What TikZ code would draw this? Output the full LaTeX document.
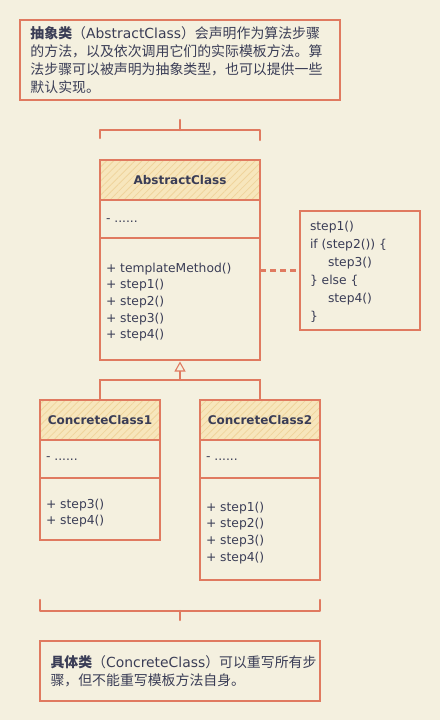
\documentclass[tikz,border=0pt]{standalone}
\usepackage{fontspec}
\setmainfont{Noto Sans CJK SC}
\newfontfamily\umlfont{DejaVu Sans}
\usetikzlibrary{patterns.meta,arrows.meta}
\definecolor{bg}{HTML}{F4F0DF}
\definecolor{ln}{HTML}{E07A60}
\definecolor{tx}{HTML}{3A3D56}
\definecolor{hd}{HTML}{F7E6BC}
\definecolor{hatch}{HTML}{EFD49C}
\begin{document}
\begin{tikzpicture}[x=1pt,y=-1pt,
  every node/.style={inner sep=0pt,outer sep=0pt},
  frame/.style={draw=ln,line width=1.1pt},
  hdr/.style={fill=hd,postaction={pattern={Lines[angle=45,distance=5pt,line width=0.8pt]},pattern color=hatch}},
  note/.style={text=tx,anchor=base west,font=\fontsize{13.9}{18}\selectfont},
  uml/.style={text=tx,anchor=base west,font=\umlfont\fontsize{12.3}{16}\selectfont},
  title/.style={text=tx,anchor=base,font=\umlfont\bfseries\fontsize{12}{16}\selectfont},
  bracket/.style={draw=ln,line width=2.2pt,line cap=round,line join=round}]
\fill[bg] (0,0) rectangle (440,720);
\useasboundingbox (0,0) rectangle (440,720);

% top note
\node[frame,minimum width=320pt,minimum height=80pt,anchor=north west] (topnote) at (20,20) {};
\node[note] (tn1) at (30.5,38.5) {\textbf{抽象类}（{\umlfont AbstractClass}）会声明作为算法步骤};
\node[note] (tn2) at (30.5,56.5) {的方法，以及依次调用它们的实际模板方法。算};
\node[note] (tn3) at (30.5,74.5) {法步骤可以被声明为抽象类型，也可以提供一些};
\node[note] (tn4) at (30.5,92.5) {默认实现。};

% top bracket
\draw[bracket] (100,138) -- (100,130) -- (260,130) -- (260,140);
\draw[bracket] (180,130) -- (180,120);

% AbstractClass
\path[hdr] (100,160) rectangle (260,200);
\node[frame,minimum width=160pt,minimum height=200pt,anchor=north west] (ac) at (100,160) {};
\draw[frame] (100,200) -- (260,200) (100,238) -- (260,238);
\node[title] (act) at (180,184.5) {AbstractClass};
\node[uml] (aca) at (106,222) {- ......};
\node[uml] (acm1) at (106,272) {+ templateMethod()};
\node[uml] (acm2) at (106,288.7) {+ step1()};
\node[uml] (acm3) at (106,305.4) {+ step2()};
\node[uml] (acm4) at (106,322.1) {+ step3()};
\node[uml] (acm5) at (106,338.8) {+ step4()};

% code note
\node[frame,minimum width=120pt,minimum height=119pt,anchor=north west] (code) at (300,211) {};
\node[uml] (c1) at (310,230.5) {step1()};
\node[uml] (c2) at (310,248.5) {if (step2()) \{};
\node[uml] (c3) at (328,266.5) {step3()};
\node[uml] (c4) at (310,284.5) {\} else \{};
\node[uml] (c5) at (328,302.5) {step4()};
\node[uml] (c6) at (310,320.5) {\}};
\draw[draw=ln,line width=2.2pt,dash pattern=on 6pt off 4pt] (ac.east |- code.west) -- (code.west);

% ConcreteClass1
\path[hdr] (40,400) rectangle (160,440);
\node[frame,minimum width=120pt,minimum height=140pt,anchor=north west] (cc1) at (40,400) {};
\draw[frame] (40,440) -- (160,440) (40,478) -- (160,478);
\node[title] (cc1t) at (100,424.5) {ConcreteClass1};
\node[uml] (cc1a) at (46,460) {- ......};
\node[uml] (cc1m1) at (46,508) {+ step3()};
\node[uml] (cc1m2) at (46,524.7) {+ step4()};

% ConcreteClass2
\path[hdr] (200,400) rectangle (320,440);
\node[frame,minimum width=120pt,minimum height=180pt,anchor=north west] (cc2) at (200,400) {};
\draw[frame] (200,440) -- (320,440) (200,478) -- (320,478);
\node[title] (cc2t) at (260,424.5) {ConcreteClass2};
\node[uml] (cc2a) at (206,460) {- ......};
\node[uml] (cc2m1) at (206,511) {+ step1()};
\node[uml] (cc2m2) at (206,527.7) {+ step2()};
\node[uml] (cc2m3) at (206,544.4) {+ step3()};
\node[uml] (cc2m4) at (206,561.1) {+ step4()};

% inheritance
\coordinate (junc) at (180,380);
\draw[frame] (cc1.north) |- (junc) -| (cc2.north);
\draw[frame,-{Triangle[open,length=10pt,width=11pt]}] (junc) -- ([yshift=-1.5pt]ac.south);

% bottom bracket
\draw[bracket] (40,600) -- (40,611) -- (320,611) -- (320,600);
\draw[bracket] (180,611) -- (180,620);

% bottom note
\node[frame,minimum width=280pt,minimum height=60pt,anchor=north west] (botnote) at (40,641) {};
\node[note] (bn1) at (50.5,667) {\textbf{具体类}（{\umlfont ConcreteClass}）可以重写所有步};
\node[note] (bn2) at (50.5,685) {骤，但不能重写模板方法自身。};
\end{tikzpicture}
\end{document}
